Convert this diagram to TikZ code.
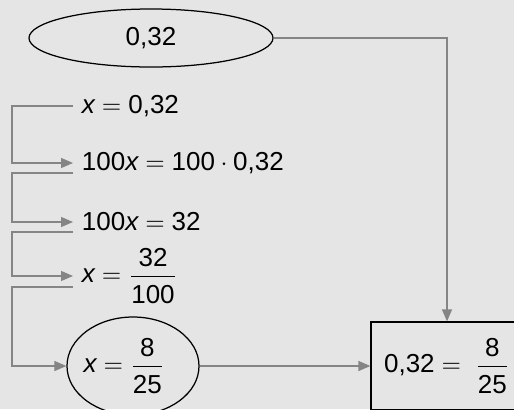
\documentclass[tikz,border=0pt]{standalone}
\usepackage{amsmath}
\usepackage{fontspec}
\setmainfont{Liberation Sans}
\usetikzlibrary{shapes.geometric, arrows.meta, positioning, calc}
\newcommand{\vx}{\text{\itshape x}}
\newcommand{\nm}[1]{\text{#1}}
\newcommand{\fr}[2]{\dfrac{\rule[-2pt]{0pt}{2pt}\nm{#1}}{\rule{0pt}{9.5pt}\nm{#2}}}

\begin{document}
\begin{tikzpicture}[
    x=0.4pt, y=0.4pt,
    font=\fontsize{10.4}{12.5}\selectfont,
    base/.style={align=center, inner sep=0pt},
    oval/.style={base, ellipse, draw=black, line width=0.5pt},
    result/.style={base, rectangle, draw=black, line width=0.5pt},
    eqn/.style={base, anchor=west, inner xsep=3.4pt},
    arrow/.style={-{Triangle[length=4.8pt, width=4pt]}, line width=0.5pt, black!48}
  ]
    % background
    \fill[black!10] (0,0) rectangle (514,409);
    \useasboundingbox (0,0) rectangle (514,409);

    \node[oval, minimum width=97.6pt, minimum height=23.2pt] (dec) at (151,371) {\nm{0,32}};

    \node[eqn] (eq1) at (73,303) {$\vx = \nm{0,32}$};
    \node[eqn] (eq2) at (73,246) {$\nm{100}\vx = \nm{100} \cdot \nm{0,32}$};
    \node[eqn] (eq3) at (73,187) {$\nm{100}\vx = \nm{32}$};
    \node[eqn] (eq4) at (73,133) {$\vx = \fr{32}{100}$};

    \node[oval, minimum width=52.8pt, minimum height=39.2pt, inner xsep=-1.2pt] (frac) at (133,43) {$\vx = \fr{8}{25}$\hspace{7pt}};
    \node[result, minimum width=60.8pt, minimum height=35.2pt] (res) at (447,43) {$\nm{0,32} = \;\fr{8}{25}$};

    \draw[arrow] (dec.east) -| (res.north);
    \draw[arrow] (eq1.west) -- ++(-61,0) |- (eq2.west);
    \draw[arrow] ([yshift=-4pt]eq2.west) -- ++(-61,0) |- (eq3.west);
    \draw[arrow] ([yshift=-4pt]eq3.west) -- ++(-61,0) |- (eq4.west);
    \draw[arrow] ([yshift=-4.4pt]eq4.west) -- ++(-61,0) |- (frac.west);
    \draw[arrow] (frac.east) -- (res.west);
  \end{tikzpicture}
\end{document}
